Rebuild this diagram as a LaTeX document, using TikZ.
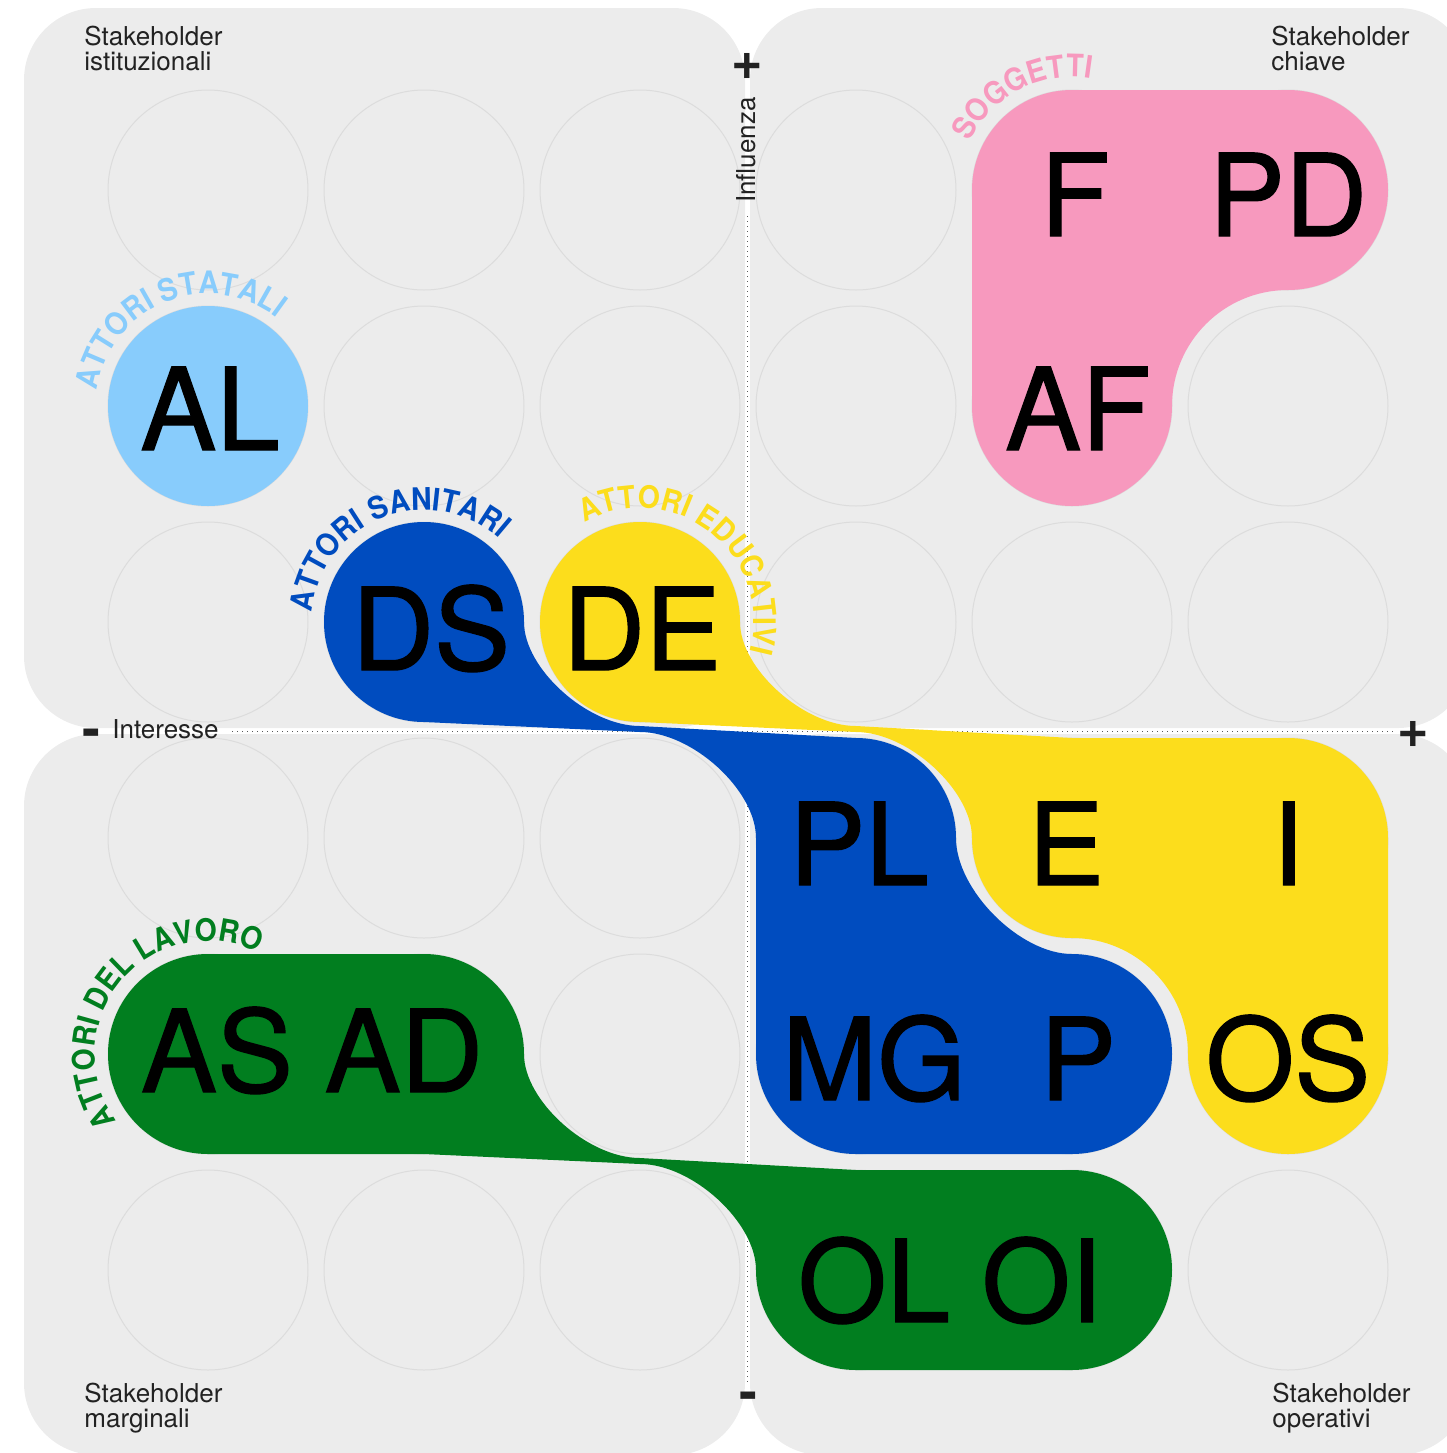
\documentclass[tikz,border=0pt]{standalone}
\usepackage{fontspec}
\setmainfont{TeX Gyre Heros}
\newfontfamily\arcfont{TeX Gyre Heros}[FakeStretch=0.92]
\newfontfamily\codefont{TeX Gyre Heros}[FakeBold=1.2]
\usetikzlibrary{decorations.text}
\definecolor{quadbg}{HTML}{ECECEC}
\definecolor{slotline}{HTML}{DCDCDC}
\definecolor{statali}{HTML}{88CCFC}
\definecolor{soggetti}{HTML}{F799BE}
\definecolor{sanitari}{HTML}{004CBF}
\definecolor{educativi}{HTML}{FCDD1C}
\definecolor{lavoro}{HTML}{017E1F}
\definecolor{axisink}{HTML}{222222}

\begin{document}
\begin{tikzpicture}[
    x=0.5pt, y=-0.5pt,
    quad/.style={fill=quadbg, rounded corners=36pt},
    slot/.style={draw=slotline, line width=0.5pt},
    code/.style={font=\codefont\fontsize{57}{57}\selectfont, anchor=base, inner sep=0pt},
    sign/.style={font=\fontsize{27}{27}\selectfont\bfseries, text=axisink, anchor=base, inner sep=0pt},
    corner/.style={font=\fontsize{13}{12.5}\selectfont, align=left, anchor=north west,
                   inner sep=0pt, text=axisink},
    axislabel/.style={font=\fontsize{13}{13}\selectfont, text=axisink, inner sep=0pt},
    axisline/.style={draw=black!65, line width=0.5pt, dotted},
    arctext/.style 2 args={decorate, decoration={text along path, text align=center,
                   text={|\arcfont\fontsize{15.5}{15.5}\selectfont\bfseries\color{#1}|#2}}},
]

\useasboundingbox (0,0) rectangle (1447,1453);
\clip (0,0) rectangle (1447,1453);

\fill[quad] (24,8) rectangle (745,728);
\fill[quad] (750,8) rectangle (1470,728);
\fill[quad] (24,734) rectangle (745,1455);
\fill[quad] (750,734) rectangle (1470,1455);

\foreach \cx in {208,424,640,856,1072,1288}
  \foreach \cy in {190,406,622,838,1054,1270}
    \draw[slot] (\cx,\cy) circle[radius=100];

\node[sign] (plusy) at (747,79) {+};
\node[sign] (minusy) at (748,1410) {-};
\node[sign] (plusx) at (1413,747) {+};
\node[sign] (minusx) at (91,747) {-};
\node[axislabel, anchor=base west] (interesse) at (112,738) {Interesse};
\node[axislabel, rotate=90] (influenza) at (746,150) {Influenza};

\coordinate (xfrom) at (232,731);
\coordinate (xto) at (1396,731);
\coordinate (yfrom) at (747,216);
\coordinate (yto) at (747,1384);
\draw[axisline] (xfrom) -- (xto);
\draw[axisline] (yfrom) -- (yto);

\fill[statali] (208,406) circle[radius=100];

\fill[soggetti] (1072,90) -- (1288,90) arc[start angle=270, end angle=450, radius=100]
  arc[start angle=270, end angle=180, radius=116]
  arc[start angle=0, end angle=180, radius=100]
  -- (972,190) arc[start angle=180, end angle=270, radius=100] -- cycle;

\fill[sanitari] (424,522) arc[start angle=270, end angle=360, radius=100]
  .. controls (524,669) and (588,726) .. (640,726)
  -- (856,738) arc[start angle=270, end angle=360, radius=100]
  .. controls (956,890) and (1020,954) .. (1072,954)
  arc[start angle=270, end angle=450, radius=100]
  -- (856,1154) arc[start angle=90, end angle=180, radius=100]
  -- (756,838) .. controls (756,790) and (692,732) .. (640,732)
  -- (424,722) arc[start angle=90, end angle=270, radius=100] -- cycle;

\fill[educativi] (640,522) arc[start angle=270, end angle=360, radius=100]
  .. controls (740,669) and (804,726) .. (856,726)
  -- (1072,738) -- (1288,738) arc[start angle=270, end angle=360, radius=100]
  -- (1388,1054) arc[start angle=0, end angle=180, radius=100]
  arc[start angle=360, end angle=270, radius=116]
  arc[start angle=90, end angle=180, radius=100]
  .. controls (972,790) and (908,732) .. (856,732)
  -- (640,722) arc[start angle=90, end angle=270, radius=100] -- cycle;

\fill[lavoro] (208,954) -- (424,954) arc[start angle=270, end angle=360, radius=100]
  .. controls (524,1101) and (588,1158) .. (640,1158)
  -- (856,1170) -- (1072,1170) arc[start angle=270, end angle=450, radius=100]
  -- (856,1370) arc[start angle=90, end angle=180, radius=100]
  .. controls (756,1222) and (692,1164) .. (640,1164)
  -- (424,1154) -- (208,1154) arc[start angle=90, end angle=270, radius=100] -- cycle;

\path[arctext={statali}{ATTORI STATALI}] (208,406) ++(158:112)
  arc[start angle=158, end angle=338, radius=112];
\path[arctext={soggetti}{SOGGETTI}] (1072,190) ++(152.5:113)
  arc[start angle=152.5, end angle=332.5, radius=113];
\path[arctext={sanitari}{ATTORI SANITARI}] (424,622) ++(158.5:112)
  arc[start angle=158.5, end angle=338.5, radius=112];
\path[arctext={educativi}{ATTORI EDUCATIVI}] (640,622) ++(218:114)
  arc[start angle=218, end angle=398, radius=114];
\path[arctext={lavoro}{ATTORI DEL LAVORO}] (208,1054) ++(130:113)
  arc[start angle=130, end angle=310, radius=113];

\node[code] (al) at (210,450) {AL};
\node[code] (f) at (1075,236) {F};
\node[code] (pd) at (1288,236) {PD};
\node[code] (af) at (1078,450) {AF};
\node[code] (ds) at (431,670) {DS};
\node[code] (de) at (642,670) {DE};
\node[code] (pl) at (859,885) {PL};
\node[code] (e) at (1066,885) {E};
\node[code] (i) at (1288,885) {I};
\node[code] (mg) at (874,1100) {MG};
\node[code] (p) at (1078,1100) {P};
\node[code] (os) at (1288,1100) {OS};
\node[code] (asad) at (312,1092) {AS AD};
\node[code] (oloi) at (950,1322) {OL OI};

\node[corner] (istituzionali) at (84,26) {Stakeholder\\istituzionali};
\node[corner] (chiave) at (1271,26) {Stakeholder\\chiave};
\node[corner] (marginali) at (84,1383) {Stakeholder\\marginali};
\node[corner] (operativi) at (1272,1383) {Stakeholder\\operativi};

\end{tikzpicture}
\end{document}
